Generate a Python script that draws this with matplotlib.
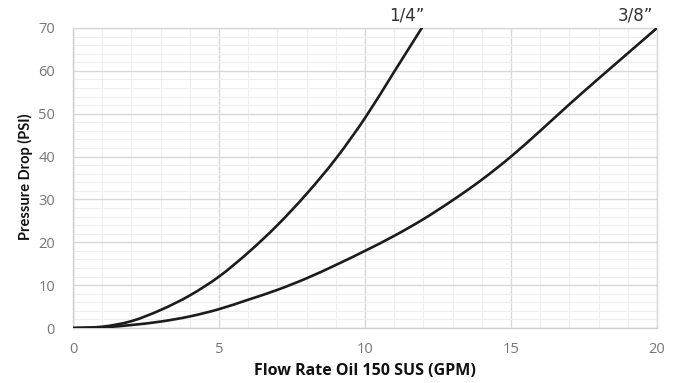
import numpy as np
import matplotlib
matplotlib.use('Agg')
import matplotlib.pyplot as plt
from matplotlib.ticker import MultipleLocator
from matplotlib.path import Path
from matplotlib.patches import PathPatch

C_LINE = '#1c1c1c'; C_TICK = '#767676'; C_MAJ = '#d9d9d9'; C_MIN = '#eeeeee'

# flow rate (GPM) vs pressure drop (PSI)
flow_14 = [0, 1, 2, 3, 4, 5, 6, 7, 8, 9, 10, 11, 12]
psi_14 = [0, 0.3, 1.6, 4.2, 7.6, 12.0, 17.6, 24.0, 31.3, 39.5, 49.0, 59.8, 70.6]
flow_38 = [0, 1, 2, 3, 4, 5, 6, 7, 8, 9, 10, 11, 12, 13, 14, 15, 16, 17, 18, 19, 20]
psi_38 = [0, 0.15, 0.7, 1.5, 2.7, 4.4, 6.6, 8.9, 11.6, 14.7, 18.0, 21.5, 25.4,
          29.8, 34.6, 40.0, 46.0, 52.2, 58.2, 64.1, 70.0]
labels = ['1/4\u201d', '3/8\u201d']
label_x = [11.44, 19.25]

def smooth_path(xs, ys):
    # excel-style smoothed line: bezier segments through the data points
    p = np.column_stack([xs, ys]).astype(float)
    verts = [p[0]]; codes = [Path.MOVETO]
    n = len(p)
    for i in range(n - 1):
        p0 = p[max(i - 1, 0)]; p1 = p[i]; p2 = p[i + 1]; p3 = p[min(i + 2, n - 1)]
        verts += [p1 + (p2 - p0) / 6, p2 - (p3 - p1) / 6, p2]
        codes += [Path.CURVE4] * 3
    return Path(verts, codes)

fig = plt.figure(figsize=(6.74, 3.83), dpi=100)
ax = fig.add_axes([73/674, 1-328/383, (657-73)/674, (328-28)/383])

for xs, ys in [(flow_14, psi_14), (flow_38, psi_38)]:
    ax.add_patch(PathPatch(smooth_path(xs, ys), fill=False, edgecolor=C_LINE, lw=1.9,
                           capstyle='butt', zorder=3))

ax.set_xlim(0, 20); ax.set_ylim(0, 70)
ax.xaxis.set_major_locator(MultipleLocator(5)); ax.xaxis.set_minor_locator(MultipleLocator(1))
ax.yaxis.set_major_locator(MultipleLocator(10)); ax.yaxis.set_minor_locator(MultipleLocator(2))
ax.grid(True, which='major', color=C_MAJ, lw=1.0, zorder=1)
ax.grid(True, which='minor', color=C_MIN, lw=0.8, zorder=0)
ax.set_axisbelow(True)
for s in ax.spines.values(): s.set_color(C_MAJ); s.set_linewidth(1.0)
ax.spines['left'].set_color('#cfcfcf'); ax.spines['bottom'].set_color('#cfcfcf')

ax.tick_params(which='both', length=0)
ax.tick_params(axis='y', pad=13, labelsize=10.5, labelcolor=C_TICK)
ax.tick_params(axis='x', pad=10, labelsize=10.5, labelcolor=C_TICK)
for t in ax.get_xticklabels() + ax.get_yticklabels(): t.set_family('Open Sans')

fig.text(365/674, 1-371/383, 'Flow Rate Oil 150 SUS (GPM)', family='Open Sans',
         fontweight='bold', fontsize=11.5, color='#111111', ha='center', va='center')
fig.text(25/674, 1-176.5/383, 'Pressure Drop (PSI)', family='Lato', fontweight='bold',
         fontsize=10.5, color='#111111', ha='center', va='center', rotation=90)

for lx, lab in zip(label_x, labels):
    ax.text(lx, 72.8, lab, ha='center', va='center', fontsize=12, color='#333333',
            family='DejaVu Sans', clip_on=False)

fig.savefig('out.png', dpi=100, facecolor='white')
